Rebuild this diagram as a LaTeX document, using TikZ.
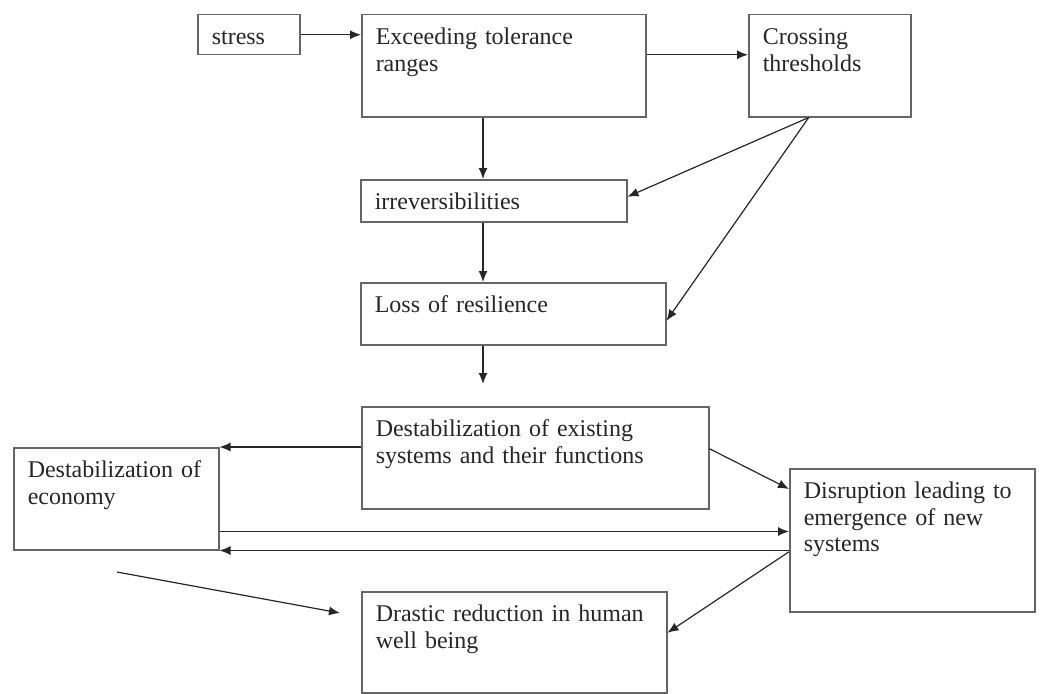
\documentclass[tikz,border=0pt]{standalone}
\usepackage{fontspec}
\setmainfont{Liberation Serif}
\usetikzlibrary{arrows.meta}

\begin{document}
\begin{tikzpicture}[x=1pt,y=-1pt,
	blk/.style={draw=black!60,line width=1.5pt,anchor=north west,align=left,inner xsep=14pt,inner ysep=8pt,text height=22pt,text=black!85,font=\fontsize{24}{26.5}\selectfont},
	arr/.style={-{Latex[length=11pt,width=9pt]},line width=1.2pt,black!85}]

\useasboundingbox (0,0) rectangle (1040,693);

%%% Upper chain
\node[blk,text width=74pt,text depth=2pt] (stress) at (197,14) {stress};
\node[blk,text width=256pt,text depth=64pt] (exceed) at (361,14) {Exceeding tolerance\\ranges};
\node[blk,text width=134pt,text depth=64pt] (cross) at (748,14) {Crossing\\thresholds};
\node[blk,text width=238pt,text depth=4pt] (irrev) at (360,179) {irreversibilities};
\node[blk,text width=277pt,text depth=24pt] (loss) at (360,282) {Loss of resilience};

%%% Lower part
\node[blk,text width=319pt,text depth=64pt] (destab) at (361,406) {Destabilization of existing\\systems and their functions};
\node[blk,text width=177pt,text depth=64pt] (econ) at (13,447) {Destabilization of\\economy};
\node[blk,text width=217pt,text depth=105pt] (disrupt) at (789,468) {Disruption leading to\\emergence of new\\systems};
\node[blk,text width=277pt,text depth=63pt] (drastic) at (361,591) {Drastic reduction in human\\well being};

%% free ends
\coordinate (spine) at (483,0);
\coordinate (lossend) at (483,384);
\coordinate (ftail) at (117,572);
\coordinate (fhead) at (340,613);

%% Arrows upper chain
\draw[arr] (stress.east) -- (stress.east -| exceed.west);
\draw[arr] ([yshift=11pt]exceed.east) -- ([yshift=11pt]cross.west);
\draw[arr] (exceed.south -| spine) -- (irrev.north -| spine);
\draw[arr] ([xshift=-21pt]cross.south) -- ([yshift=4pt]irrev.east);
\draw[arr] ([xshift=-21pt]cross.south) -- ([yshift=-7pt]loss.east);
\draw[arr] (irrev.south -| spine) -- (loss.north -| spine);
\draw[arr] (loss.south -| spine) -- (lossend);

%% Arrows lower part
\draw[arr] (destab.west |- econ.north) -- (econ.north east);
\draw[arr] ([yshift=9pt]destab.east) -- ([yshift=-21pt]disrupt.north west);
\draw[arr] ([yshift=19pt]econ.south east) coordinate (e1) -- (e1 -| disrupt.west);
\draw[arr] (econ.south east -| disrupt.west) -- (econ.south east);
\draw[arr] (ftail) -- (fhead);
\draw[arr] ([yshift=-11.5pt]disrupt.west) -- ([yshift=9.5pt]drastic.east);

\end{tikzpicture}
\end{document}
